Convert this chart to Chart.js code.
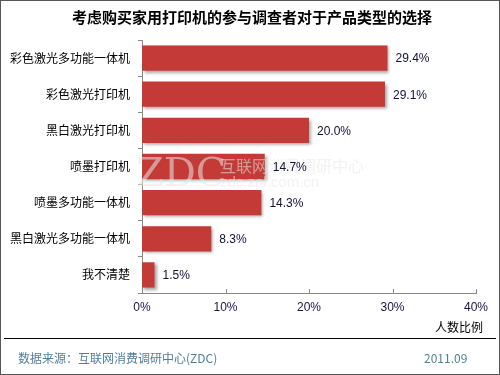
<!DOCTYPE html>
<html>
<head>
<meta charset="utf-8">
<script src="https://cdn.jsdelivr.net/npm/chart.js"></script>
<style>
  html, body { margin: 0; padding: 0; background: #fff; }
  #wrap { width: 500px; height: 375px; position: relative; }
</style>
</head>
<body>
<div id="wrap"><canvas id="chart" width="500" height="375"></canvas></div>
<script>
// 数据
const categories = ["彩色激光多功能一体机", "彩色激光打印机", "黑白激光打印机", "喷墨打印机", "喷墨多功能一体机", "黑白激光多功能一体机", "我不清楚"];
const shares = [29.4, 29.1, 20.0, 14.7, 14.3, 8.3, 1.5];
const xTicks = [0, 10, 20, 30, 40];

const titleText = "考虑购买家用打印机的参与调查者对于产品类型的选择";
const axisTitle = "人数比例";
const sourceText = "数据来源：互联网消费调研中心(ZDC)";
const dateText = "2011.09";

const cjk = '"Noto Sans CJK SC", "Noto Sans", sans-serif';
const latin = '"Liberation Sans", Arial, sans-serif';

// 柱子渐变
function barFill(ctx) {
    const el = ctx.element;
    const c = ctx.chart.ctx;
    if (!el || el.y === undefined) return "#c43a36";
    const h = el.height || 25;
    const g = c.createLinearGradient(0, el.y - h / 2, 0, el.y + h / 2);
    g.addColorStop(0, "#d3423c");
    g.addColorStop(0.5, "#c23834");
    g.addColorStop(1, "#9e2a29");
    return g;
}

// 外框、标题、水印、数值标签、页脚
const decor = {
    id: "decor",
    beforeDatasetsDraw(chart) {
        const c = chart.ctx;
        c.save();
        c.shadowColor = "rgba(0,0,0,0.35)";
        c.shadowOffsetX = 2;
        c.shadowOffsetY = 2;
        c.shadowBlur = 3;
    },
    afterDatasetsDraw(chart) {
        const c = chart.ctx;
        c.restore();
        // 水印
        c.save();
        c.fillStyle = "rgba(232,232,232,0.55)";
        c.textBaseline = "alphabetic";
        c.font = '300 40px "DejaVu Serif", serif';
        c.fillText("ZDC", 136, 186);
        c.font = "16px " + cjk;
        c.fillText("互联网消费调研中心", 220, 172);
        c.font = "15px " + latin;
        c.fillText("zdc.zol.com.cn", 220, 187);
        c.restore();
    },
    afterDraw(chart) {
        const c = chart.ctx;
        const area = chart.chartArea;
        const xs = chart.scales.x;
        const ys = chart.scales.y;
        c.save();
        // x 轴内侧刻度
        c.strokeStyle = "#888";
        c.lineWidth = 1;
        xTicks.forEach(v => {
            const px = Math.round(xs.getPixelForValue(v)) + 0.5;
            c.beginPath();
            c.moveTo(px, area.bottom);
            c.lineTo(px, area.bottom - 4);
            c.stroke();
        });
        // 数值标签
        c.fillStyle = "#10103a";
        c.font = "12px " + latin;
        c.textAlign = "left";
        c.textBaseline = "middle";
        shares.forEach((v, i) => {
            c.fillText(v.toFixed(1) + "%", xs.getPixelForValue(v) + 8, ys.getPixelForValue(i) + 1);
        });
        // 标题
        c.fillStyle = "#000";
        c.font = "bold 15px " + cjk;
        c.textAlign = "center";
        c.fillText(titleText, 252, 17);
        // 轴标题
        c.font = "12px " + cjk;
        c.textAlign = "right";
        c.fillText(axisTitle, 483, 327);
        // 分隔线
        c.strokeStyle = "#000";
        c.beginPath();
        c.moveTo(4, 338.5);
        c.lineTo(496, 338.5);
        c.stroke();
        // 页脚
        c.fillStyle = "#4f7f9c";
        c.textAlign = "left";
        c.fillText(sourceText, 18, 358);
        c.fillText(dateText, 424, 358);
        // 外框
        c.strokeStyle = "#555";
        c.strokeRect(0.5, 0.5, 499, 374);
        c.restore();
    }
};

new Chart(document.getElementById("chart").getContext("2d"), {
    type: "bar",
    data: {
        labels: categories,
        datasets: [{
            data: shares,
            backgroundColor: barFill,
            borderWidth: 0,
            categoryPercentage: 1,
            barPercentage: 0.7
        }]
    },
    options: {
        indexAxis: "y",
        responsive: false,
        animation: false,
        events: [],
        layout: { padding: { top: 40, right: 24, bottom: 0, left: 0 } },
        plugins: {
            legend: { display: false },
            title: { display: false },
            tooltip: { enabled: false }
        },
        scales: {
            x: {
                min: 0,
                max: 40,
                afterFit: s => { s.height = 82; },
                afterBuildTicks: s => { s.ticks = xTicks.map(v => ({ value: v })); },
                grid: { display: false, drawTicks: false },
                border: { display: true, color: "#888", width: 1 },
                ticks: {
                    padding: 7,
                    color: "#15154a",
                    font: { size: 12, family: latin },
                    callback: v => v + "%"
                }
            },
            y: {
                afterFit: s => { s.width = 142; },
                grid: {
                    display: true,
                    offset: true,
                    drawOnChartArea: false,
                    drawTicks: true,
                    tickLength: 4,
                    color: "#888"
                },
                border: { display: true, color: "#888", width: 1 },
                ticks: {
                    padding: 8,
                    color: "#000",
                    font: { size: 12, family: cjk }
                }
            }
        }
    },
    plugins: [decor]
});
</script>
</body>
</html>
